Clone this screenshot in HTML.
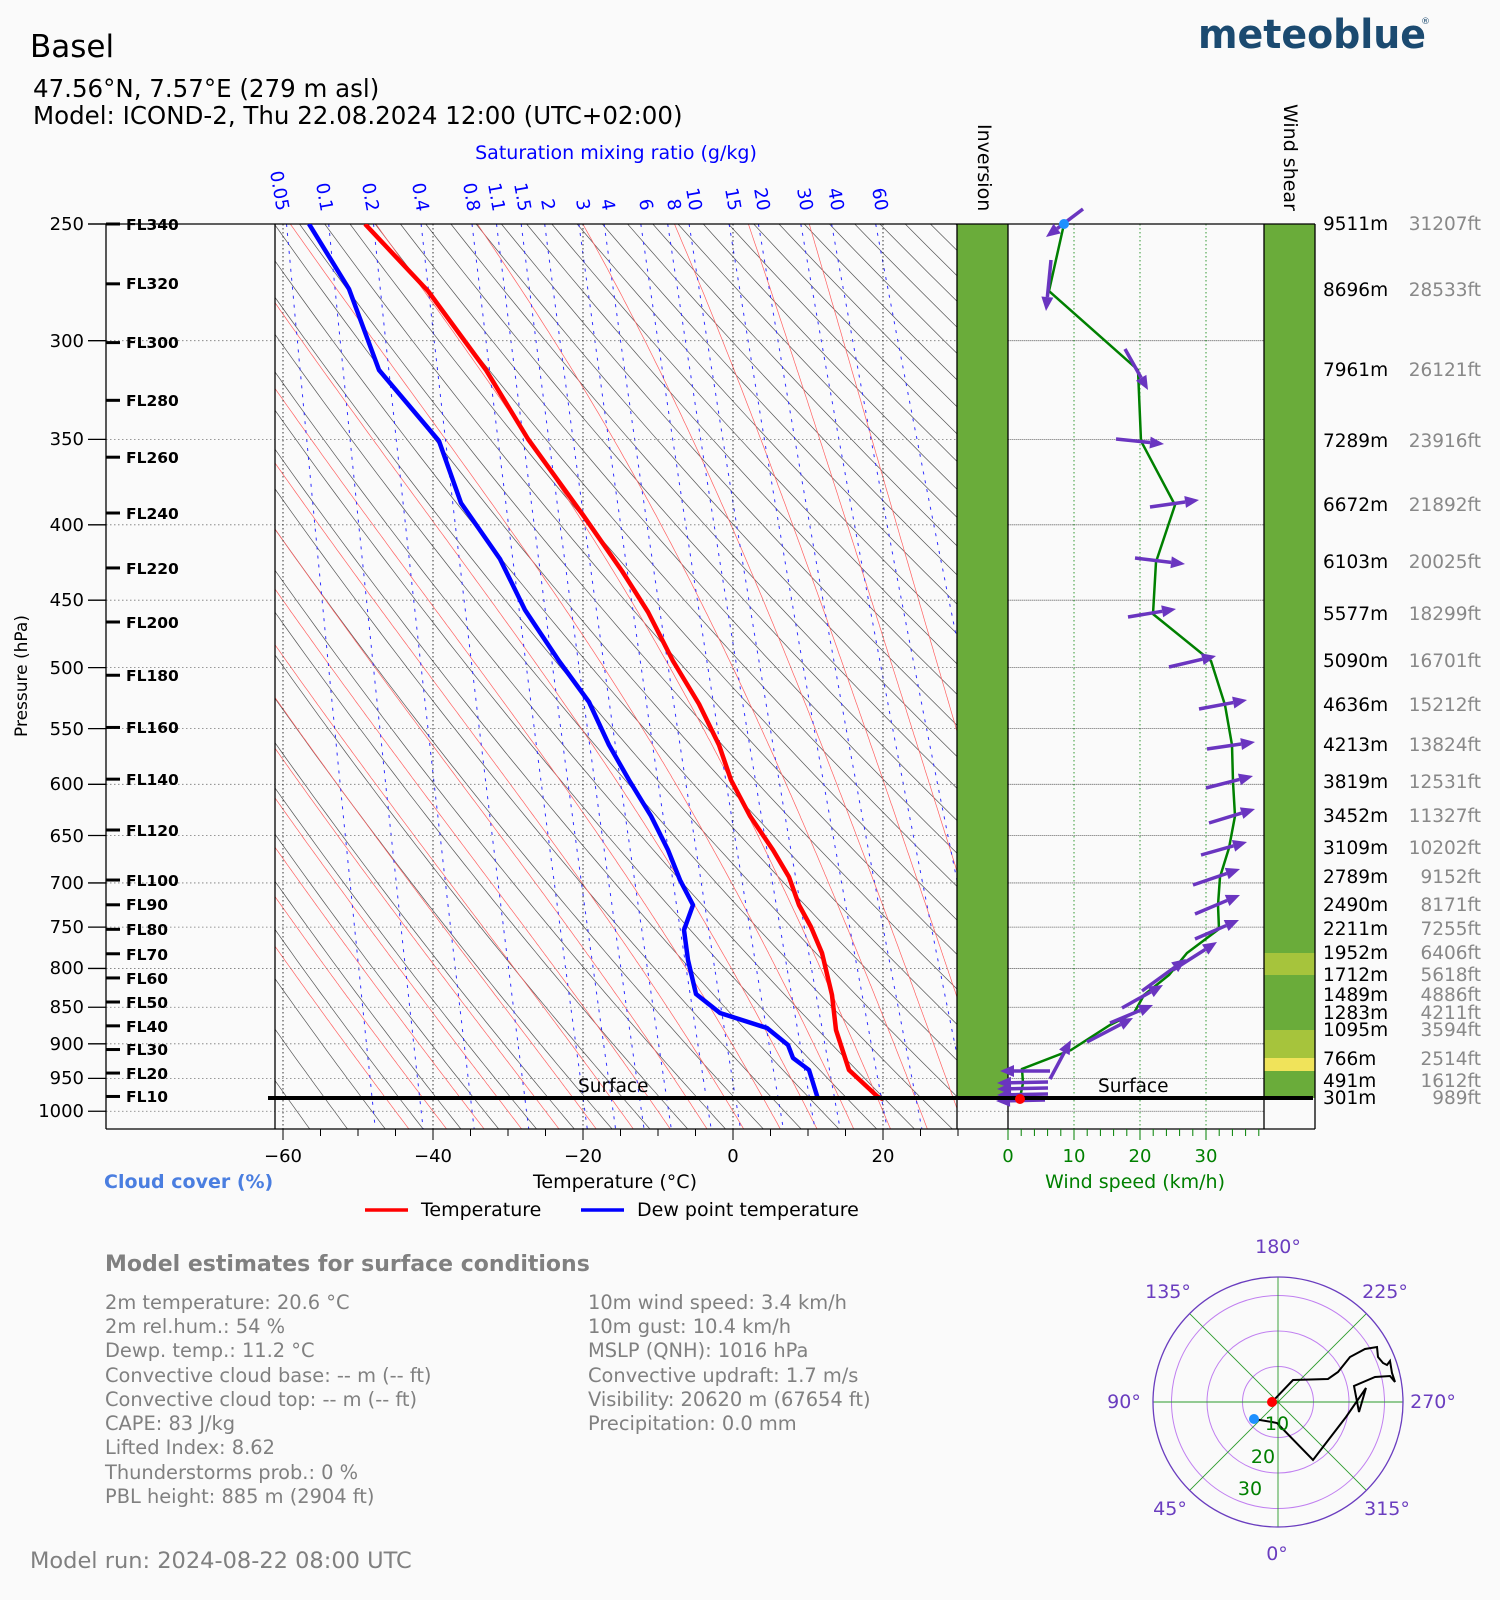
<!DOCTYPE html>
<html><head><meta charset="utf-8"><style>
html,body{margin:0;padding:0;background:#fafafa;}
svg{display:block;font-family:"DejaVu Sans","Liberation Sans",sans-serif;}
</style></head><body>
<svg id="s" width="1500" height="1600" viewBox="0 0 1500 1600" xmlns="http://www.w3.org/2000/svg">
<rect width="1500" height="1600" fill="#fafafa"/>
<defs><clipPath id="cp"><rect x="275" y="224" width="682" height="905"/></clipPath></defs>
<g id="bg" clip-path="url(#cp)"></g>
<g id="grid"></g>
<rect x="957" y="224" width="51" height="874" fill="#6aac3a"/>
<rect x="1264" y="224" width="51" height="874" fill="#6aac3a"/>
<rect x="1264" y="953" width="51" height="22" fill="#a6c43c"/>
<rect x="1264" y="1030" width="51" height="28" fill="#a6c43c"/>
<rect x="1264" y="1058" width="51" height="13" fill="#f0e35a"/>
<g id="wgrid"></g>
<g stroke="#000" stroke-width="1.3" fill="none">
<line x1="88" y1="224" x2="1315" y2="224"/>
<line x1="106" y1="1129" x2="1315" y2="1129"/>
<line x1="106" y1="224" x2="106" y2="1129"/>
<line x1="275" y1="224" x2="275" y2="1129"/>
<line x1="957" y1="224" x2="957" y2="1129"/>
<line x1="1008" y1="224" x2="1008" y2="1129"/>
<line x1="1264" y1="224" x2="1264" y2="1129"/>
<line x1="1315" y1="224" x2="1315" y2="1129"/>
</g>
<g id="ticks"></g>
<g id="prof" clip-path="url(#cp)"></g>
<g id="wind"></g>
<line x1="268" y1="1098" x2="1313" y2="1098" stroke="#000" stroke-width="4"/>
<circle cx="1020" cy="1099" r="5" fill="#ff0000"/>
<circle cx="1064" cy="224" r="5" fill="#1e90ff"/>
<text x="578" y="1092" font-size="18.5">Surface</text>
<text x="1098" y="1092" font-size="18.5">Surface</text>

<text x="30" y="57" font-size="31">Basel</text>
<text x="33" y="97" font-size="24.5">47.56°N, 7.57°E (279 m asl)</text>
<text x="33" y="124" font-size="24.5">Model: ICOND-2, Thu 22.08.2024 12:00 (UTC+02:00)</text>
<text x="1198" y="48" font-size="40" font-weight="bold" fill="#1b4a70" textLength="228" lengthAdjust="spacingAndGlyphs">meteoblue</text>
<text x="1421" y="24" font-size="9" fill="#1b4a70">®</text>
<text x="616" y="159" font-size="19" fill="#0000ff" text-anchor="middle">Saturation mixing ratio (g/kg)</text>
<text transform="translate(978,124) rotate(90)" font-size="19">Inversion</text>
<text transform="translate(1284,104) rotate(90)" font-size="19">Wind shear</text>

<g font-size="18" fill="#0000ff">
<text transform="translate(270,172) rotate(80)">0.05</text>
<text transform="translate(316,184) rotate(80)">0.1</text>
<text transform="translate(362,184) rotate(80)">0.2</text>
<text transform="translate(412,184) rotate(80)">0.4</text>
<text transform="translate(463,184) rotate(80)">0.8</text>
<text transform="translate(488,184) rotate(80)">1.1</text>
<text transform="translate(514,184) rotate(80)">1.5</text>
<text transform="translate(541,200) rotate(80)">2</text>
<text transform="translate(576,200) rotate(80)">3</text>
<text transform="translate(601,200) rotate(80)">4</text>
<text transform="translate(639,200) rotate(80)">6</text>
<text transform="translate(667,200) rotate(80)">8</text>
<text transform="translate(686,189) rotate(80)">10</text>
<text transform="translate(725,189) rotate(80)">15</text>
<text transform="translate(754,189) rotate(80)">20</text>
<text transform="translate(797,189) rotate(80)">30</text>
<text transform="translate(828,189) rotate(80)">40</text>
<text transform="translate(872,189) rotate(80)">60</text>
</g>

<g font-size="18" text-anchor="end">
<text x="84" y="230">250</text><text x="84" y="347">300</text><text x="84" y="445">350</text>
<text x="84" y="531">400</text><text x="84" y="606">450</text><text x="84" y="674">500</text>
<text x="84" y="735">550</text><text x="84" y="790">600</text><text x="84" y="842">650</text>
<text x="84" y="889">700</text><text x="84" y="933">750</text><text x="84" y="974">800</text>
<text x="84" y="1013">850</text><text x="84" y="1050">900</text><text x="84" y="1084">950</text>
<text x="84" y="1117">1000</text>
</g>
<text transform="translate(27,676) rotate(-90)" font-size="17" text-anchor="middle">Pressure (hPa)</text>
<g font-size="15.5" font-weight="bold">
<text x="126" y="230">FL340</text><text x="126" y="289">FL320</text><text x="126" y="348">FL300</text>
<text x="126" y="406">FL280</text><text x="126" y="463">FL260</text><text x="126" y="519">FL240</text>
<text x="126" y="574">FL220</text><text x="126" y="628">FL200</text><text x="126" y="681">FL180</text>
<text x="126" y="733">FL160</text><text x="126" y="785">FL140</text><text x="126" y="836">FL120</text>
<text x="126" y="886">FL100</text><text x="126" y="910">FL90</text><text x="126" y="935">FL80</text>
<text x="126" y="960">FL70</text><text x="126" y="984">FL60</text><text x="126" y="1008">FL50</text>
<text x="126" y="1032">FL40</text><text x="126" y="1055">FL30</text><text x="126" y="1079">FL20</text>
<text x="126" y="1102">FL10</text>
</g>

<g font-size="18.5">
<g>
<text x="1323" y="230">9511m</text><text x="1323" y="296">8696m</text><text x="1323" y="376">7961m</text>
<text x="1323" y="447">7289m</text><text x="1323" y="511">6672m</text><text x="1323" y="568">6103m</text>
<text x="1323" y="620">5577m</text><text x="1323" y="667">5090m</text><text x="1323" y="711">4636m</text>
<text x="1323" y="751">4213m</text><text x="1323" y="788">3819m</text><text x="1323" y="822">3452m</text>
<text x="1323" y="854">3109m</text><text x="1323" y="883">2789m</text><text x="1323" y="911">2490m</text>
<text x="1323" y="935">2211m</text><text x="1323" y="959">1952m</text><text x="1323" y="981">1712m</text>
<text x="1323" y="1001">1489m</text><text x="1323" y="1019">1283m</text><text x="1323" y="1036">1095m</text>
<text x="1323" y="1065">766m</text><text x="1323" y="1087">491m</text><text x="1323" y="1104">301m</text>
</g>
<g fill="#888" text-anchor="end">
<text x="1481" y="230">31207ft</text><text x="1481" y="296">28533ft</text><text x="1481" y="376">26121ft</text>
<text x="1481" y="447">23916ft</text><text x="1481" y="511">21892ft</text><text x="1481" y="568">20025ft</text>
<text x="1481" y="620">18299ft</text><text x="1481" y="667">16701ft</text><text x="1481" y="711">15212ft</text>
<text x="1481" y="751">13824ft</text><text x="1481" y="788">12531ft</text><text x="1481" y="822">11327ft</text>
<text x="1481" y="854">10202ft</text><text x="1481" y="883">9152ft</text><text x="1481" y="911">8171ft</text>
<text x="1481" y="935">7255ft</text><text x="1481" y="959">6406ft</text><text x="1481" y="981">5618ft</text>
<text x="1481" y="1001">4886ft</text><text x="1481" y="1019">4211ft</text><text x="1481" y="1036">3594ft</text>
<text x="1481" y="1065">2514ft</text><text x="1481" y="1087">1612ft</text><text x="1481" y="1104">989ft</text>
</g>
</g>

<g font-size="18" text-anchor="middle">
<text x="283" y="1162">−60</text><text x="433" y="1162">−40</text><text x="583" y="1162">−20</text>
<text x="733" y="1162">0</text><text x="883" y="1162">20</text>
</g>
<g font-size="18" text-anchor="middle" fill="#008000">
<text x="1008" y="1162">0</text><text x="1074" y="1162">10</text><text x="1140" y="1162">20</text><text x="1206" y="1162">30</text>
</g>
<text x="615" y="1188" font-size="19" text-anchor="middle">Temperature (°C)</text>
<text x="1135" y="1188" font-size="19" text-anchor="middle" fill="#008000">Wind speed (km/h)</text>
<text x="104" y="1188" font-size="19" font-weight="bold" fill="#4a7ee0">Cloud cover (%)</text>

<line x1="365" y1="1210" x2="408" y2="1210" stroke="#ff0000" stroke-width="3.5"/>
<text x="421" y="1216" font-size="19">Temperature</text>
<line x1="581" y1="1210" x2="624" y2="1210" stroke="#0000ff" stroke-width="3.5"/>
<text x="637" y="1216" font-size="19">Dew point temperature</text>

<text x="105" y="1271" font-size="22" font-weight="bold" fill="#808080">Model estimates for surface conditions</text>
<g font-size="19.4" fill="#808080">
<text x="105" y="1309">2m temperature: 20.6 °C</text>
<text x="105" y="1333">2m rel.hum.: 54 %</text>
<text x="105" y="1357">Dewp. temp.: 11.2 °C</text>
<text x="105" y="1382">Convective cloud base: -- m (-- ft)</text>
<text x="105" y="1406">Convective cloud top: -- m (-- ft)</text>
<text x="105" y="1430">CAPE: 83 J/kg</text>
<text x="105" y="1454">Lifted Index: 8.62</text>
<text x="105" y="1479">Thunderstorms prob.: 0 %</text>
<text x="105" y="1503">PBL height: 885 m (2904 ft)</text>
<text x="588" y="1309">10m wind speed: 3.4 km/h</text>
<text x="588" y="1333">10m gust: 10.4 km/h</text>
<text x="588" y="1357">MSLP (QNH): 1016 hPa</text>
<text x="588" y="1382">Convective updraft: 1.7 m/s</text>
<text x="588" y="1406">Visibility: 20620 m (67654 ft)</text>
<text x="588" y="1430">Precipitation: 0.0 mm</text>
</g>
<text x="30" y="1568" font-size="22.5" fill="#808080">Model run: 2024-08-22 08:00 UTC</text>

<g>
<g fill="none" stroke="#c07ff0" stroke-width="1">
<circle cx="1278" cy="1402" r="35.5"/><circle cx="1278" cy="1402" r="71"/><circle cx="1278" cy="1402" r="106.5"/>
</g>
<g stroke="#2a9a2a" stroke-width="0.9">
<line x1="1153" y1="1402" x2="1403" y2="1402"/><line x1="1278" y1="1277" x2="1278" y2="1527"/>
<line x1="1189.6" y1="1313.6" x2="1366.4" y2="1490.4"/><line x1="1189.6" y1="1490.4" x2="1366.4" y2="1313.6"/>
</g>
<circle cx="1278" cy="1402" r="125" fill="none" stroke="#6a3dbf" stroke-width="1.3"/>
<polyline fill="none" stroke="#000" stroke-width="2" points="1272,1402 1293,1380 1328,1379 1338,1372 1350,1357 1365,1349 1377,1347 1378,1357 1383,1363 1387,1365 1390,1361 1392,1373 1395,1382 1390,1376 1375,1377 1354,1386 1359,1412 1366,1388 1346,1417 1313,1460 1277,1423 1272,1422 1254,1419"/>
<circle cx="1272" cy="1402" r="5" fill="#ff0000"/>
<circle cx="1254" cy="1419" r="5" fill="#1e90ff"/>
<g font-size="19" fill="#008000" text-anchor="middle">
<text x="1277" y="1430">10</text><text x="1263" y="1463">20</text><text x="1250" y="1495">30</text>
</g>
<g font-size="19" fill="#6a3dbf" text-anchor="middle">
<text x="1278" y="1253">180°</text><text x="1385" y="1298">225°</text><text x="1168" y="1298">135°</text>
<text x="1124" y="1408">90°</text><text x="1433" y="1408">270°</text>
<text x="1170" y="1515">45°</text><text x="1387" y="1515">315°</text><text x="1277" y="1560">0°</text>
</g>
</g>
</svg>
<script>
(function(){
var NS="http://www.w3.org/2000/svg";
function X(T){return 733+7.5*T;}
function Y(p){return 224+640*Math.log(p/250);}
function el(g,tag,a){var e=document.createElementNS(NS,tag);for(var k in a)e.setAttribute(k,a[k]);document.getElementById(g).appendChild(e);return e;}
function pl(g,pts,a){a.points=pts.map(function(q){return q[0].toFixed(1)+","+q[1].toFixed(1);}).join(" ");a.fill="none";return el(g,"polyline",a);}
for(var th=200;th<=560;th+=5){var pts=[];for(var p=240;p<=1040;p+=10){pts.push([X(th*Math.pow(p/1000,0.2857)-273.15),Y(p)]);}pl("bg",pts,{stroke:"#555","stroke-width":"0.7"});}
function es(T){return 6.112*Math.exp(17.67*T/(T+243.5));}
function dTdp(T,p){var Tk=T+273.15;var e=es(T);var rs=0.622*e/(p-e);var Lv=2.5e6,Rd=287,cp=1004;return (Rd*Tk+Lv*rs)/(p*(cp+Lv*Lv*rs*0.622/(Rd*Tk*Tk)));}
for(var tw=-45;tw<=45;tw+=5){var up=[],T=tw;for(var p=1000;p>=240;p-=2){up.push([X(T),Y(p)]);T-=dTdp(T,p)*2;}
var dn=[];T=tw;for(var p=1000;p<=1040;p+=2){dn.push([X(T),Y(p)]);T+=dTdp(T,p)*2;}
pl("bg",up.reverse().concat(dn),{stroke:"#ff6060","stroke-width":"0.7"});}
[0.05,0.1,0.2,0.4,0.8,1.1,1.5,2,3,4,6,8,10,15,20,30,40,60].forEach(function(w){var pts=[];for(var p=250;p<=1040;p+=10){var e=w/1000*p/(0.622+w/1000);var l=Math.log(e/6.112);pts.push([X(243.5*l/(17.67-l)),Y(p)]);}pl("bg",pts,{stroke:"#3030ff","stroke-width":"1","stroke-dasharray":"3,6"});});
for(var p=300;p<=1000;p+=50){el("grid","line",{x1:106,x2:1264,y1:Y(p),y2:Y(p),stroke:"#777","stroke-width":"0.8","stroke-dasharray":"1.5,2.5"});}
[-60,-40,-20,0,20].forEach(function(t){el("grid","line",{x1:X(t),x2:X(t),y1:224,y2:1129,stroke:"#000","stroke-width":"0.8","stroke-dasharray":"1.5,2.5"});});
[10,20,30].forEach(function(v){var x=1008+6.6*v;el("wgrid","line",{x1:x,x2:x,y1:224,y2:1129,stroke:"#008000","stroke-width":"0.8","stroke-dasharray":"1.5,2.5"});});
for(var p=300;p<=1000;p+=50){el("wgrid","line",{x1:1008,x2:1264,y1:Y(p),y2:Y(p),stroke:"#777","stroke-width":"0.8","stroke-dasharray":"1.5,2.5"});}
for(var p=250;p<=1000;p+=50){el("ticks","line",{x1:88,x2:106,y1:Y(p),y2:Y(p),stroke:"#000","stroke-width":"1.3"});}
[250,274.5,300.9,329.3,359.9,392.7,427.9,465.6,506,549,595.2,644.4,696.8,724.3,752.6,781.9,812,843.1,875.1,908.1,942.1,977.2].forEach(function(p){el("ticks","line",{x1:106,x2:120,y1:Y(p),y2:Y(p),stroke:"#000","stroke-width":"3"});});
for(var t=-60;t<=30;t+=5){var mj=(t%20==0);el("ticks","line",{x1:X(t),x2:X(t),y1:1129,y2:mj?1140:1136,stroke:"#000","stroke-width":"1"});}
for(var v=0;v<=38;v+=2){var mj=(v%10==0);el("ticks","line",{x1:1008+6.6*v,x2:1008+6.6*v,y1:1129,y2:mj?1140:1136,stroke:"#008000","stroke-width":"1"});}
pl("prof",[[365,224],[428,291],[486,370],[528,439],[583,515],[622,571],[648,612],[673,661],[699,704],[719,745],[731,780],[750,816],[773,850],[789,877],[799,905],[811,927],[822,953],[832,995],[836,1030],[849,1070],[878,1097],[883,1099]],{stroke:"#ff0000","stroke-width":"4.5","stroke-linejoin":"round"});
pl("prof",[[309,224],[349,289],[379,370],[439,441],[461,503],[500,559],[525,610],[559,661],[589,702],[609,745],[629,780],[651,816],[668,850],[680,880],[693,905],[684,930],[688,960],[696,994],[720,1013],[767,1028],[788,1045],[793,1058],[809,1070],[818,1099]],{stroke:"#0000ff","stroke-width":"4.5","stroke-linejoin":"round"});
pl("wind",[[1064,224],[1049,291],[1138,370],[1141,441],[1175,505],[1156,562],[1153,614],[1211,661],[1225,705],[1232,745],[1233,782],[1235,816],[1229,848],[1220,877],[1218,905],[1219,929],[1187,953],[1169,975],[1144,995],[1134,1013],[1110,1025],[1071,1050],[1022,1069],[1023,1083],[1020,1098]],{stroke:"#008000","stroke-width":"2.5"});
var arr=[[1083,209,1046,237],[1051,260,1046,311],[1125,349,1148,390],[1116,439,1164,444],[1150,507,1199,500],[1135,558,1185,564],[1128,617,1176,609],[1169,667,1216,656],[1199,709,1247,700],[1207,749,1255,742],[1206,788,1253,776],[1209,823,1255,809],[1201,855,1247,842],[1193,885,1240,869],[1195,914,1240,895],[1195,939,1239,920],[1173,970,1217,942],[1142,991,1186,959],[1122,1008,1163,985],[1110,1023,1153,1005],[1087,1042,1133,1018],[1050,1079,1071,1040],[1050,1071,1000,1071],[1048,1082,997,1083],[1048,1088,997,1089],[1048,1094,997,1095],[1045,1100,996,1101]];
arr.forEach(function(a){var dx=a[2]-a[0],dy=a[3]-a[1],L=Math.sqrt(dx*dx+dy*dy),ux=dx/L,uy=dy/L,h=14,w=6;
var bx=a[2]-ux*h,by=a[3]-uy*h;
el("wind","line",{x1:a[0],y1:a[1],x2:bx,y2:by,stroke:"#6a35c0","stroke-width":"3.5"});
el("wind","polygon",{points:a[2]+","+a[3]+" "+(bx-uy*w)+","+(by+ux*w)+" "+(bx+uy*w)+","+(by-ux*w),fill:"#6a35c0"});});
})();
</script>
</body></html>
